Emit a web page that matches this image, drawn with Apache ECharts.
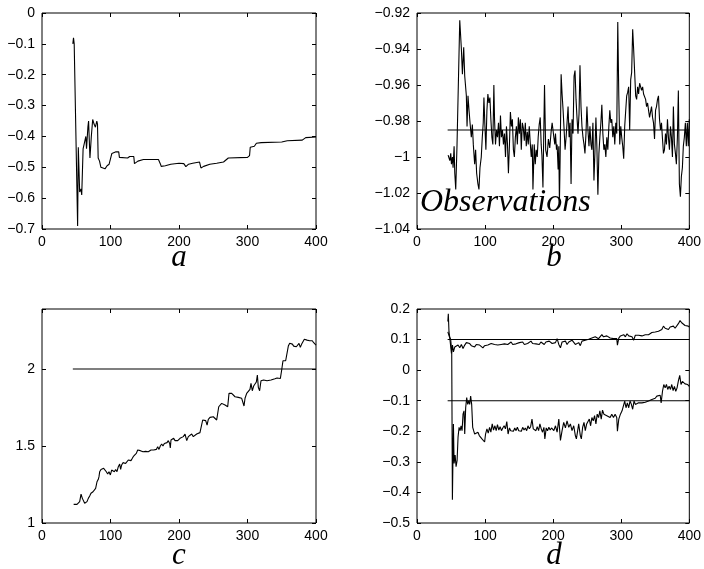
<!DOCTYPE html>
<html><head><meta charset="utf-8">
<script src="https://cdn.jsdelivr.net/npm/echarts@6/dist/echarts.min.js"></script>
<style>html,body{margin:0;padding:0;background:#fff}#c{width:704px;height:569px}</style>
</head><body><div id="c"></div><script>
// ---- data ----
const xTicks = [0, 100, 200, 300, 400];
const panelLabels = ['a', 'b', 'c', 'd'];
const obsLabel = 'Observations';

const aPts = [[45,-0.10],[46,-0.08],[47,-0.10],[52,-0.69],[53,-0.435],[55,-0.58],[57,-0.57],[58,-0.59],[60,-0.44],[62,-0.42],
[64,-0.40],[65,-0.44],[67,-0.37],[68,-0.35],[70,-0.47],[72,-0.40],[74,-0.345],[76,-0.36],[78,-0.37],[80,-0.35],
[81,-0.36],[82,-0.47],[84,-0.48],[86,-0.50],[88,-0.505],[92,-0.505],[95,-0.495],[98,-0.49],[100,-0.495],[101,-0.495],
[102,-0.455],[108,-0.45],[112,-0.45],[113,-0.468],[114,-0.47],[125,-0.47],[128,-0.465],[134,-0.465],[135,-0.488],[140,-0.48],
[148,-0.475],[170,-0.475],[173,-0.49],[174,-0.497],[180,-0.495],[188,-0.49],[200,-0.487],[207,-0.488],[210,-0.498],[214,-0.49],
[220,-0.487],[230,-0.483],[232,-0.502],[236,-0.497],[245,-0.49],[255,-0.487],[265,-0.483],[272,-0.47],[300,-0.468],[303,-0.462],
[304,-0.435],[310,-0.432],[313,-0.422],[320,-0.42],[350,-0.418],[358,-0.414],[380,-0.412],[385,-0.404],[400,-0.402]];

const bPts = [[45.7,-0.999],[48.2,-1.002],[49.6,-0.998],[50.6,-1.004],[52.1,-1.000],[53.0,-1.006],[54.5,-0.994],[55.5,-1.009],[56.9,-1.018],[58.8,-0.993],
[62.8,-0.924],[65.2,-0.940],[66.7,-0.954],[68.6,-0.939],[70.1,-0.955],[72.5,-0.966],[73.5,-0.983],[74.9,-0.966],[76.4,-0.974],[77.9,-0.981],
[79.8,-0.989],[81.3,-0.982],[82.7,-0.993],[84.7,-1.004],[86.1,-0.996],[87.6,-1.009],[89.5,-1.015],[91.0,-1.018],[92.5,-1.006],[94.4,-1.000],
[95.9,-0.989],[97.3,-0.981],[98.3,-0.967],[99.8,-0.983],[101.2,-0.996],[102.7,-0.974],[104.1,-0.965],[105.6,-0.970],[107.1,-0.967],[108.5,-0.979],
[110.0,-0.989],[111.4,-0.993],[112.9,-0.960],[113.9,-0.979],[115.3,-0.993],[116.8,-0.985],[118.2,-0.989],[119.7,-0.981],[121.1,-0.994],[122.6,-0.977],
[124.0,-0.989],[125.5,-0.985],[127.0,-0.993],[128.5,-0.987],[130.0,-1.000],[131.4,-0.983],[132.9,-0.993],[134.3,-1.009],[135.8,-0.993],[137.2,-0.975],
[138.7,-0.983],[140.1,-0.979],[141.6,-0.996],[143.0,-1.000],[144.5,-0.989],[146.0,-0.983],[147.4,-0.993],[148.9,-0.978],[150.3,-0.987],[151.8,-0.979],
[153.2,-0.996],[154.7,-0.981],[156.2,-0.984],[157.6,-0.991],[159.1,-0.981],[160.5,-0.994],[162.0,-0.986],[163.4,-0.993],[164.9,-0.983],[166.3,-0.992],
[167.8,-1.000],[169.3,-0.993],[170.3,-1.018],[172.2,-0.993],[173.7,-1.004],[175.1,-0.996],[176.6,-1.000],[178.0,-0.989],[179.5,-0.982],[181.0,-0.978],
[182.4,-0.993],[183.5,-0.999],[185.0,-1.017],[187.3,-0.960],[189.0,-0.996],[191.0,-1.000],[193.0,-0.990],[195.0,-0.995],[197.0,-0.986],[198.5,-0.981],
[201.0,-0.989],[202.4,-0.993],[203.4,-0.987],[204.9,-0.996],[205.8,-0.993],[207.3,-1.007],[208.3,-0.994],[209.2,-1.026],[210.2,-1.002],[211.7,-0.954],
[213.1,-0.965],[214.6,-0.974],[216.1,-0.985],[217.5,-0.996],[219.0,-0.989],[220.4,-0.981],[221.9,-0.972],[223.4,-0.989],[224.8,-0.981],[226.3,-1.015],
[227.7,-0.979],[229.2,-0.987],[230.7,-0.955],[232.1,-0.952],[233.6,-0.968],[235.0,-0.978],[236.5,-0.987],[238.0,-0.976],[239.4,-0.949],[240.9,-0.972],
[242.3,-0.983],[243.8,-0.989],[245.3,-0.993],[246.7,-0.998],[248.2,-0.987],[249.6,-0.972],[251.1,-0.985],[252.6,-0.994],[254.0,-0.983],[255.5,-0.993],
[256.9,-0.996],[258.4,-0.981],[259.9,-1.013],[261.3,-0.998],[262.8,-0.978],[264.2,-0.994],[265.7,-1.021],[267.2,-0.998],[268.6,-0.989],[270.1,-0.981],
[271.5,-0.971],[273.0,-0.987],[274.5,-0.996],[275.9,-0.993],[277.4,-1.000],[278.8,-0.989],[280.3,-0.996],[281.8,-0.983],[283.2,-0.974],[284.7,-0.981],
[286.1,-0.979],[287.6,-0.989],[289.1,-0.983],[290.5,-0.993],[292.0,-0.981],[293.4,-0.987],[294.9,-0.925],[296.4,-0.966],[297.8,-0.993],[299.3,-0.983],
[300.7,-0.989],[302.2,-0.994],[303.6,-1.001],[305.1,-0.983],[306.6,-0.974],[308.0,-0.966],[309.5,-0.964],[310.9,-0.961],[312.4,-0.985],[313.9,-0.957],
[315.3,-0.953],[316.8,-0.929],[318.2,-0.940],[319.7,-0.953],[321.2,-0.966],[322.6,-0.968],[324.1,-0.961],[325.5,-0.965],[327.0,-0.959],[328.5,-0.958],
[329.9,-0.963],[331.4,-0.961],[332.8,-0.965],[334.3,-0.966],[335.8,-0.968],[337.2,-0.972],[338.7,-0.970],[340.1,-0.974],[341.6,-0.978],[343.1,-0.979],
[344.5,-0.972],[346.0,-0.978],[347.4,-0.981],[348.9,-0.990],[350.4,-0.974],[351.8,-0.972],[353.3,-0.968],[354.7,-0.966],[356.2,-0.979],[357.7,-0.985],
[359.1,-0.981],[360.6,-0.990],[362.0,-0.998],[363.5,-0.996],[365.0,-0.987],[366.4,-0.993],[367.9,-0.979],[369.3,-0.989],[370.8,-0.996],[372.3,-0.983],
[373.7,-0.989],[375.2,-1.000],[376.6,-0.972],[378.1,-0.993],[379.6,-0.998],[381.0,-1.004],[382.5,-0.989],[383.9,-0.963],[385.4,-1.015],[386.9,-1.022],
[388.3,-1.011],[389.8,-1.006],[391.2,-0.994],[392.7,-0.989],[394.2,-0.981],[395.6,-0.994],[397.1,-0.981],[398.5,-0.994],[400.0,-0.979]];

const cPts = [[46.2,1.121],[51.1,1.121],[53.5,1.128],[55.0,1.139],[57.0,1.188],[58.9,1.160],[60.8,1.149],[62.3,1.128],[64.2,1.117],[65.7,1.139],
[67.6,1.160],[69.6,1.175],[71.5,1.193],[73.0,1.182],[74.5,1.203],[76.4,1.214],[78.3,1.225],[80.3,1.268],[82.2,1.284],[83.2,1.301],
[84.2,1.333],[86.1,1.348],[88.1,1.355],[90.0,1.355],[92.0,1.344],[93.9,1.333],[95.9,1.318],[97.8,1.333],[99.8,1.312],[101.7,1.344],
[103.6,1.355],[105.6,1.333],[107.5,1.348],[109.5,1.333],[111.4,1.366],[113.4,1.383],[114.8,1.348],[116.3,1.377],[118.2,1.392],[120.2,1.398],
[122.1,1.387],[124.1,1.392],[126.0,1.409],[128.0,1.413],[129.9,1.405],[131.9,1.420],[133.8,1.435],[135.8,1.442],[137.7,1.452],[139.7,1.474],
[141.6,1.478],[143.6,1.470],[145.5,1.474],[147.4,1.463],[149.4,1.474],[151.3,1.465],[153.3,1.470],[155.2,1.463],[157.2,1.470],[159.1,1.474],
[161.1,1.465],[163.0,1.474],[165.0,1.483],[166.9,1.478],[168.9,1.496],[170.8,1.478],[172.7,1.500],[174.7,1.513],[176.6,1.500],[178.6,1.517],
[180.5,1.506],[182.5,1.522],[184.4,1.535],[186.4,1.517],[187.3,1.487],[188.3,1.539],[190.3,1.543],[192.2,1.550],[194.2,1.535],[196.1,1.539],
[198.1,1.535],[201.5,1.550],[203.9,1.539],[206.3,1.561],[208.8,1.578],[211.3,1.535],[213.6,1.561],[216.0,1.565],[218.5,1.578],[220.9,1.561],
[223.3,1.571],[225.8,1.578],[228.2,1.571],[230.6,1.587],[233.1,1.593],[234.6,1.669],[237.0,1.680],[239.0,1.665],[241.0,1.636],[242.8,1.673],
[245.3,1.686],[247.7,1.680],[250.1,1.690],[252.6,1.680],[255.0,1.669],[256.5,1.665],[258.0,1.755],[259.9,1.760],[262.3,1.777],[264.7,1.781],
[267.2,1.766],[271.1,1.755],[273.0,1.842],[275.0,1.853],[276.9,1.842],[279.3,1.846],[281.8,1.820],[284.2,1.825],[286.6,1.816],[289.1,1.825],
[291.5,1.810],[293.9,1.820],[294.9,1.760],[296.4,1.810],[298.8,1.842],[301.2,1.838],[303.6,1.868],[305.1,1.907],[307.0,1.859],[309.0,1.890],
[311.0,1.885],[312.9,1.916],[314.4,1.961],[315.8,1.881],[317.7,1.859],[319.7,1.924],[321.6,1.933],[323.6,1.929],[325.5,1.924],[328.5,1.924],
[331.4,1.929],[334.3,1.929],[337.2,1.933],[340.1,1.937],[343.1,1.942],[346.0,1.946],[348.0,1.939],[349.9,1.994],[351.8,2.054],[353.8,2.063],
[355.7,2.054],[357.7,2.048],[359.6,2.149],[361.6,2.167],[363.5,2.156],[365.5,2.162],[367.4,2.149],[369.3,2.156],[371.3,2.145],[373.2,2.156],
[375.2,2.167],[377.1,2.141],[379.1,2.162],[381.0,2.171],[383.0,2.193],[384.9,2.199],[386.9,2.188],[388.8,2.193],[390.8,2.184],[392.7,2.177],
[394.6,2.184],[396.6,2.171],[398.5,2.167],[400.0,2.156]];

const dUpperPts = [[45.3,0.159],[46.0,0.184],[47.0,0.125],[48.0,0.109],[50.6,0.055],[52.1,0.082],[53.5,0.060],[55.5,0.076],[57.9,0.071],[60.3,0.082],
[62.8,0.073],[65.2,0.084],[67.6,0.071],[70.1,0.082],[72.5,0.090],[74.9,0.084],[77.4,0.087],[79.8,0.080],[82.2,0.082],[84.7,0.076],
[87.1,0.084],[89.5,0.087],[92.0,0.082],[94.4,0.076],[96.8,0.073],[99.3,0.080],[101.7,0.075],[104.1,0.082],[106.6,0.084],[109.0,0.087],
[111.4,0.082],[113.9,0.084],[116.3,0.090],[118.7,0.082],[121.2,0.087],[123.6,0.084],[126.0,0.090],[128.5,0.086],[130.9,0.090],[133.3,0.084],
[135.8,0.087],[138.2,0.092],[140.6,0.084],[143.1,0.090],[145.5,0.086],[148.0,0.082],[150.4,0.090],[152.8,0.087],[155.2,0.092],[157.7,0.084],
[160.1,0.090],[162.5,0.087],[165.0,0.090],[167.4,0.095],[169.8,0.087],[172.3,0.090],[174.7,0.086],[177.1,0.090],[179.6,0.084],[182.0,0.092],
[184.4,0.095],[186.9,0.084],[189.3,0.092],[191.7,0.088],[194.2,0.095],[196.6,0.090],[198.5,0.087],[203.4,0.090],[205.8,0.103],[208.3,0.084],
[210.7,0.073],[213.1,0.092],[215.5,0.087],[218.0,0.095],[220.4,0.084],[222.9,0.092],[225.3,0.090],[227.7,0.098],[230.2,0.092],[232.6,0.084],
[235.0,0.080],[237.5,0.090],[239.9,0.080],[242.3,0.095],[244.8,0.090],[247.2,0.098],[249.6,0.092],[252.1,0.101],[254.5,0.097],[256.9,0.105],
[259.4,0.101],[261.8,0.109],[264.2,0.112],[266.7,0.103],[269.1,0.109],[271.5,0.116],[274.0,0.109],[276.4,0.105],[278.8,0.112],[281.3,0.109],
[283.7,0.105],[286.1,0.109],[288.6,0.103],[291.0,0.108],[293.4,0.103],[294.4,0.082],[296.4,0.105],[298.8,0.112],[301.2,0.109],[303.6,0.116],
[306.1,0.109],[308.5,0.119],[311.0,0.112],[313.4,0.116],[315.8,0.109],[318.2,0.098],[320.7,0.114],[323.1,0.112],[325.5,0.114],[330.4,0.112],
[335.3,0.116],[340.1,0.116],[342.6,0.119],[345.0,0.123],[347.4,0.121],[349.9,0.125],[352.3,0.123],[354.7,0.127],[357.2,0.125],[359.6,0.133],
[362.0,0.144],[364.5,0.137],[366.9,0.141],[369.3,0.133],[371.8,0.141],[374.2,0.135],[376.6,0.144],[379.1,0.137],[381.5,0.133],[383.9,0.152],
[386.4,0.162],[388.8,0.155],[391.2,0.152],[393.7,0.146],[396.1,0.148],[398.5,0.144],[400.0,0.141]];

const dLowerPts = [[45.3,0.125],[47.5,0.110],[49.5,0.100],[51.0,0.060],[52.0,-0.424],[53.5,-0.176],[54.5,-0.305],[56.0,-0.278],[57.4,-0.316],[58.9,-0.295],
[60.3,-0.219],[61.8,-0.187],[63.3,-0.198],[64.7,-0.182],[66.2,-0.198],[67.6,-0.144],[69.1,-0.133],[70.1,-0.209],[71.5,-0.123],[73.0,-0.090],
[74.5,-0.112],[75.9,-0.101],[77.4,-0.112],[78.8,-0.085],[80.3,-0.112],[81.8,-0.187],[83.2,-0.198],[84.7,-0.209],[86.1,-0.203],[87.6,-0.214],
[89.5,-0.203],[91.5,-0.214],[93.4,-0.219],[95.4,-0.225],[97.3,-0.230],[99.3,-0.235],[100.7,-0.209],[102.7,-0.192],[104.6,-0.206],[106.6,-0.187],
[108.5,-0.203],[110.5,-0.176],[112.4,-0.196],[114.4,-0.182],[116.3,-0.198],[118.2,-0.178],[120.2,-0.196],[122.1,-0.185],[124.1,-0.198],[126.0,-0.189],
[128.0,-0.182],[129.9,-0.192],[131.9,-0.168],[133.8,-0.209],[135.8,-0.189],[137.7,-0.198],[139.7,-0.192],[141.6,-0.200],[143.6,-0.189],[145.5,-0.198],
[147.4,-0.187],[149.4,-0.198],[151.3,-0.192],[153.3,-0.200],[155.2,-0.187],[157.2,-0.196],[159.1,-0.189],[161.1,-0.198],[163.0,-0.182],[165.0,-0.192],
[166.9,-0.185],[168.9,-0.160],[170.8,-0.192],[172.7,-0.187],[174.7,-0.198],[176.6,-0.185],[178.6,-0.198],[180.5,-0.176],[182.5,-0.192],[184.4,-0.203],
[186.4,-0.187],[187.8,-0.225],[189.8,-0.189],[191.7,-0.198],[193.7,-0.187],[195.6,-0.196],[197.6,-0.189],[201.0,-0.198],[203.4,-0.182],[205.8,-0.203],
[208.3,-0.160],[210.7,-0.230],[213.1,-0.198],[215.5,-0.171],[218.0,-0.189],[220.4,-0.166],[222.9,-0.187],[225.3,-0.176],[227.7,-0.198],[230.2,-0.182],
[232.6,-0.214],[234.1,-0.225],[236.0,-0.198],[237.5,-0.176],[239.9,-0.214],[241.4,-0.225],[243.3,-0.187],[245.3,-0.171],[247.2,-0.198],[249.2,-0.176],
[251.1,-0.182],[253.1,-0.160],[255.0,-0.182],[256.9,-0.155],[258.9,-0.166],[260.8,-0.149],[262.8,-0.176],[264.7,-0.144],[266.7,-0.155],[268.6,-0.133],
[270.6,-0.160],[272.5,-0.131],[274.5,-0.144],[276.4,-0.139],[278.8,-0.149],[281.3,-0.144],[283.7,-0.155],[286.1,-0.144],[288.6,-0.155],[291.0,-0.144],
[293.4,-0.155],[294.4,-0.200],[296.4,-0.160],[298.8,-0.144],[301.2,-0.133],[303.6,-0.139],[305.1,-0.101],[307.0,-0.123],[309.0,-0.107],[311.0,-0.123],
[312.9,-0.101],[314.9,-0.112],[316.8,-0.128],[318.8,-0.101],[320.7,-0.112],[323.1,-0.108],[325.5,-0.107],[328.0,-0.112],[330.4,-0.107],[332.8,-0.110],
[335.3,-0.105],[337.7,-0.107],[340.1,-0.101],[342.6,-0.099],[345.0,-0.096],[347.4,-0.090],[349.9,-0.092],[352.3,-0.085],[354.7,-0.090],[357.2,-0.082],
[358.6,-0.107],[360.6,-0.069],[362.5,-0.047],[364.5,-0.058],[366.4,-0.047],[368.3,-0.063],[370.3,-0.053],[372.3,-0.063],[374.2,-0.047],[376.2,-0.067],
[378.1,-0.053],[380.1,-0.069],[382.0,-0.058],[384.0,-0.034],[385.9,-0.017],[387.8,-0.047],[389.8,-0.037],[391.7,-0.031],[393.7,-0.045],[395.6,-0.039],
[397.6,-0.047],[400.0,-0.053]];

// reference (true value) lines: [xStart, xEnd, y]
const refB = [45, 400, -0.985];
const refC = [45, 400, 2];
const refD1 = [45, 400, 0.1];
const refD2 = [45, 400, -0.1];

// y-axis ranges: [min, max, interval]
const yRangeA = [-0.7, 0, 0.1];
const yRangeB = [-1.04, -0.92, 0.02];
const yRangeC = [1, 2.39, 0.5];
const yRangeD = [-0.5, 0.2, 0.1];

// ---- layout ----
const grids = [
  {left: 42, top: 13, width: 274, height: 216},
  {left: 417, top: 13, width: 274, height: 216},
  {left: 42, top: 309, width: 274, height: 214},
  {left: 417, top: 309, width: 274, height: 214}
];
const FONT = '"Liberation Sans", Arial, Helvetica, sans-serif';
const SERIF = '"Liberation Serif", "Times New Roman", serif';

function fmtNum(v, step) {
  const k = v / step;
  if (Math.abs(k - Math.round(k)) > 1e-6) return '';
  const r = Math.round(v * 1000) / 1000;
  return String(r).replace('-', '\u2212');
}

const xAxes = [], yAxes = [];
const ranges = [yRangeA, yRangeB, yRangeC, yRangeD];
for (let g = 0; g < 4; g++) {
  ['bottom', 'top'].forEach(pos => {
    xAxes.push({
      type: 'value', gridIndex: g, position: pos,
      min: xTicks[0], max: xTicks[xTicks.length - 1], interval: xTicks[1] - xTicks[0],
      axisLine: {show: false, onZero: false},
      axisTick: {show: true, inside: true, length: 4, lineStyle: {color: '#000', width: 1}},
      axisLabel: {show: pos === 'bottom', color: '#000', fontSize: 14, fontFamily: FONT, margin: 6,
        formatter: v => fmtNum(v, 100)},
      splitLine: {show: false}
    });
  });
  const r = ranges[g];
  ['left', 'right'].forEach(pos => {
    yAxes.push({
      type: 'value', gridIndex: g, position: pos,
      min: r[0], max: r[1], interval: r[2],
      axisLine: {show: false, onZero: false},
      axisTick: {show: true, inside: true, length: 4, lineStyle: {color: '#000', width: 1}},
      axisLabel: {show: pos === 'left', color: '#000', fontSize: 14, fontFamily: FONT, margin: 7,
        formatter: v => fmtNum(v, r[2])},
      splitLine: {show: false}
    });
  });
}

function lineSeries(g, pts) {
  return {
    type: 'line', xAxisIndex: g * 2, yAxisIndex: g * 2, data: pts,
    showSymbol: false, symbol: 'none', clip: true,
    lineStyle: {color: '#000', width: 1.1}, silent: true, z: 3
  };
}
function refSeries(g, ref) {
  return lineSeries(g, [[ref[0], ref[2]], [ref[1], ref[2]]]);
}

const series = [
  lineSeries(0, aPts),
  refSeries(1, refB), lineSeries(1, bPts),
  refSeries(2, refC), lineSeries(2, cPts),
  refSeries(3, refD1), refSeries(3, refD2), lineSeries(3, dUpperPts), lineSeries(3, dLowerPts)
];

const labelPos = [[179, 258], [554, 258], [179, 556], [554, 556]];
const graphic = panelLabels.map((t, i) => ({
  type: 'text', x: labelPos[i][0], y: labelPos[i][1], z: 100,
  style: {text: t, fill: '#000', font: 'italic 31px ' + SERIF, textAlign: 'center', textVerticalAlign: 'middle'}
}));
graphic.push({
  type: 'text', x: 420, y: 203, z: 100,
  style: {text: obsLabel, fill: '#000', font: 'italic 32px ' + SERIF, textAlign: 'left', textVerticalAlign: 'middle'}
});

const chart = echarts.init(document.getElementById('c'), null, {renderer: 'canvas'});
chart.setOption({
  animation: false,
  backgroundColor: '#fff',
  grid: grids.map(g => Object.assign({show: true, borderColor: '#000', borderWidth: 1, backgroundColor: 'transparent', containLabel: false}, g)),
  xAxis: xAxes,
  yAxis: yAxes,
  series: series,
  graphic: graphic
});
</script></body></html>
